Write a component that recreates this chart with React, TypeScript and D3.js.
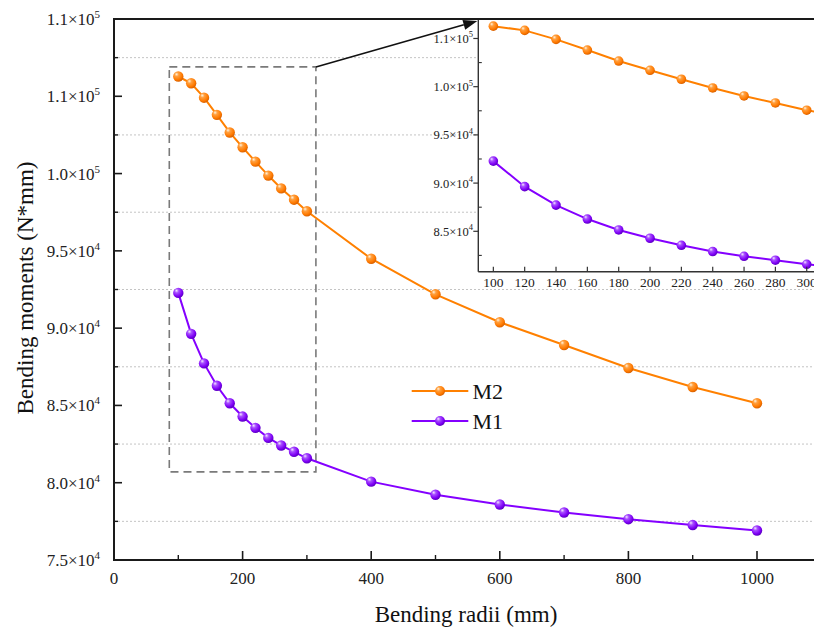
import React from 'react';
import * as d3 from 'd3';

const radii = [100, 120, 140, 160, 180, 200, 220, 240, 260, 280, 300, 400, 500, 600, 700, 800, 900, 1000];
const m2Values = [106280, 105840, 104910, 103800, 102660, 101700, 100770, 99870, 99040, 98310, 97560, 94490, 92190, 90380, 88910, 87420, 86190, 85140];
const m1Values = [92280, 89630, 87720, 86270, 85140, 84280, 83550, 82900, 82410, 82000, 81580, 80070, 79220, 78590, 78070, 77640, 77260, 76910];
const seriesNames = ['M2', 'M1'];

const mainXTicks = [0, 200, 400, 600, 800, 1000];
const mainXMinor = [100, 300, 500, 700, 900];
const mainYTicks = [75000, 80000, 85000, 90000, 95000, 100000, 105000, 110000];
const mainYMantissa = ['7.5', '8.0', '8.5', '9.0', '9.5', '1.0', '1.1', '1.1'];
const mainYExp = ['4', '4', '4', '4', '4', '5', '5', '5'];
const mainYMinor = [77500, 82500, 87500, 92500, 97500, 102500, 107500, 112500];

const insetXTicks = [100, 120, 140, 160, 180, 200, 220, 240, 260, 280, 300];
const insetYTicks = [85000, 90000, 95000, 100000, 105000];
const insetYMantissa = ['8.5', '9.0', '9.5', '1.0', '1.1'];
const insetYExp = ['4', '4', '4', '5', '5'];
const insetYMinor = [82500, 87500, 92500, 97500, 102500];

const zoomBoxX = [86, 314];
const zoomBoxY = [80700, 106900];

const ORANGE = '#ff8000';
const PURPLE = '#8400ff';
const FONT = '"Liberation Serif", "Times New Roman", serif';

export default function App() {
  const W = 814, H = 628;
  const x = d3.scaleLinear().domain([0, 1100]).range([114, 821.3]);
  const y = d3.scaleLinear().domain([75000, 110000]).range([560, 19]);
  const ix = d3.scaleLinear().domain([90.4, 310]).range([478.3, 822.4]);
  const iy = d3.scaleLinear().domain([80810, 107020]).range([271.7, 19]);

  const series = [
    { name: seriesNames[0], values: m2Values, color: ORANGE, grad: 'gradO' },
    { name: seriesNames[1], values: m1Values, color: PURPLE, grad: 'gradP' },
  ];

  const mainLine = (vals: number[]) =>
    d3.line<number>().x((_, i) => x(radii[i])).y((v) => y(v))(vals) || '';
  const insetLine = (vals: number[]) =>
    d3.line<number>().x((_, i) => ix(radii[i])).y((v) => iy(v))(vals) || '';

  const axisColor = '#1a1a1a';
  const labelColor = '#222';

  // arrow
  const ax0 = x(zoomBoxX[1]), ay0 = y(zoomBoxY[1]);
  const ax1 = ix.range()[0] - 1, ay1 = iy.range()[1] + 2;
  const ang = Math.atan2(ay1 - ay0, ax1 - ax0);
  const ah = 14, aw = 5;
  const bx = ax1 - ah * Math.cos(ang), by = ay1 - ah * Math.sin(ang);
  const arrowPts = [
    [ax1, ay1],
    [bx + aw * Math.sin(ang), by - aw * Math.cos(ang)],
    [bx - aw * Math.sin(ang), by + aw * Math.cos(ang)],
  ].map((p) => p.join(',')).join(' ');

  return (
    <div style={{ position: 'absolute', left: 0, top: 0 }}>
      <svg width={W} height={H} style={{ display: 'block', background: '#fff' }} fontFamily={FONT}>
        <defs>
          <radialGradient id="gradO" cx="40%" cy="35%" r="65%" fx="32%" fy="28%">
            <stop offset="0%" stopColor="#fff4e0" />
            <stop offset="30%" stopColor="#ffa040" />
            <stop offset="75%" stopColor="#ff7a00" />
            <stop offset="100%" stopColor="#d86000" />
          </radialGradient>
          <radialGradient id="gradP" cx="40%" cy="35%" r="65%" fx="32%" fy="28%">
            <stop offset="0%" stopColor="#f4e8ff" />
            <stop offset="30%" stopColor="#a850ff" />
            <stop offset="75%" stopColor="#7e00f5" />
            <stop offset="100%" stopColor="#5a00c0" />
          </radialGradient>
          <clipPath id="insetClip">
            <rect x={ix.range()[0]} y={iy.range()[1]} width={W - ix.range()[0]} height={iy.range()[0] - iy.range()[1]} />
          </clipPath>
        </defs>

        {/* main grid at minor values */}
        {mainYMinor.map((v) => (
          <line key={'g' + v} x1={x(0)} x2={W} y1={y(v)} y2={y(v)} stroke="#c4c4c4" strokeWidth={1} strokeDasharray="2,2" />
        ))}

        {/* zoom box */}
        <rect
          x={x(zoomBoxX[0])}
          y={y(zoomBoxY[1])}
          width={x(zoomBoxX[1]) - x(zoomBoxX[0])}
          height={y(zoomBoxY[0]) - y(zoomBoxY[1])}
          fill="none"
          stroke="#7a7a7a"
          strokeWidth={1.6}
          strokeDasharray="8,5"
        />

        {/* main series */}
        {series.map((s) => (
          <g key={s.name}>
            <path d={mainLine(s.values)} fill="none" stroke={s.color} strokeWidth={2} />
            {s.values.map((v, i) => (
              <circle key={i} cx={x(radii[i])} cy={y(v)} r={5.2} fill={`url(#${s.grad})`} />
            ))}
          </g>
        ))}

        {/* main axes */}
        <line x1={x(0)} x2={x(0)} y1={19} y2={561} stroke={axisColor} strokeWidth={2} />
        <line x1={x(0) - 1} x2={W} y1={560} y2={560} stroke={axisColor} strokeWidth={2} />
        <line x1={x(0) - 1} x2={W} y1={19} y2={19} stroke={axisColor} strokeWidth={2} />
        {mainXTicks.map((t) => (
          <g key={'xt' + t}>
            {t !== 0 && <line x1={x(t)} x2={x(t)} y1={560} y2={551} stroke={axisColor} strokeWidth={1.6} />}
            <text x={x(t)} y={584} textAnchor="middle" fontSize={17} fill={labelColor}>{t}</text>
          </g>
        ))}
        {mainXMinor.map((t) => (
          <line key={'xm' + t} x1={x(t)} x2={x(t)} y1={560} y2={555} stroke={axisColor} strokeWidth={1.4} />
        ))}
        {mainYTicks.map((t, i) => (
          <g key={'yt' + t}>
            {t !== 75000 && t !== 110000 && <line x1={x(0)} x2={x(0) + 8} y1={y(t)} y2={y(t)} stroke={axisColor} strokeWidth={1.6} />}
            <text x={100} y={y(t) + 6} textAnchor="end" fontSize={17} fill={labelColor}>
              {mainYMantissa[i]}×10
              <tspan dy={-7} fontSize={11}>{mainYExp[i]}</tspan>
            </text>
          </g>
        ))}
        {mainYMinor.map((t) => (
          <line key={'ym' + t} x1={x(0)} x2={x(0) + 4} y1={y(t)} y2={y(t)} stroke={axisColor} strokeWidth={1.4} />
        ))}

        {/* axis titles */}
        <text x={466} y={622} textAnchor="middle" fontSize={23} fill="#111">Bending radii (mm)</text>
        <text transform="translate(33,288) rotate(-90)" textAnchor="middle" fontSize={23} fill="#111">Bending moments (N*mm)</text>

        {/* inset */}
        <rect x={ix.range()[0]} y={iy.range()[1]} width={W - ix.range()[0]} height={iy.range()[0] - iy.range()[1]} fill="#fff" />
        <g clipPath="url(#insetClip)">
          {series.map((s) => (
            <g key={'in' + s.name}>
              <path d={insetLine(s.values)} fill="none" stroke={s.color} strokeWidth={2} />
              {s.values.map((v, i) => (
                <circle key={i} cx={ix(radii[i])} cy={iy(v)} r={4.8} fill={`url(#${s.grad})`} />
              ))}
            </g>
          ))}
        </g>
        <line x1={ix.range()[0]} x2={ix.range()[0]} y1={19} y2={iy.range()[0]} stroke="#333" strokeWidth={1.4} />
        <line x1={ix.range()[0]} x2={W} y1={iy.range()[0]} y2={iy.range()[0]} stroke="#333" strokeWidth={1.4} />
        <line x1={x(0) - 1} x2={W} y1={19} y2={19} stroke={axisColor} strokeWidth={2} />
        {insetXTicks.map((t) => (
          <g key={'ixt' + t}>
            <line x1={ix(t)} x2={ix(t)} y1={iy.range()[0]} y2={iy.range()[0] - 5} stroke="#333" strokeWidth={1.2} />
            <text x={ix(t)} y={287} textAnchor="middle" fontSize={13.5} fill={labelColor}>{t}</text>
          </g>
        ))}
        {insetYTicks.map((t, i) => (
          <g key={'iyt' + t}>
            <line x1={ix.range()[0]} x2={ix.range()[0] - 5} y1={iy(t)} y2={iy(t)} stroke="#333" strokeWidth={1.2} />
            <text x={473} y={iy(t) + 4.5} textAnchor="end" fontSize={12.5} fill={labelColor}>
              {insetYMantissa[i]}×10
              <tspan dy={-5.5} fontSize={8.5}>{insetYExp[i]}</tspan>
            </text>
          </g>
        ))}
        {insetYMinor.map((t) => (
          <line key={'iym' + t} x1={ix.range()[0]} x2={ix.range()[0] + 3.5} y1={iy(t)} y2={iy(t)} stroke="#333" strokeWidth={1.1} />
        ))}

        {/* arrow */}
        <line x1={ax0} y1={ay0} x2={bx} y2={by} stroke="#111" strokeWidth={1.6} />
        <polygon points={arrowPts} fill="#111" />

        {/* legend */}
        {series.map((s, i) => {
          const ly = 391 + i * 30;
          return (
            <g key={'lg' + s.name}>
              <line x1={411.7} x2={468.3} y1={ly} y2={ly} stroke={s.color} strokeWidth={2} />
              <circle cx={440} cy={ly} r={5} fill={`url(#${s.grad})`} />
              <text x={472.5} y={ly + 7.5} fontSize={22} fill="#111">{s.name}</text>
            </g>
          );
        })}
      </svg>
    </div>
  );
}
